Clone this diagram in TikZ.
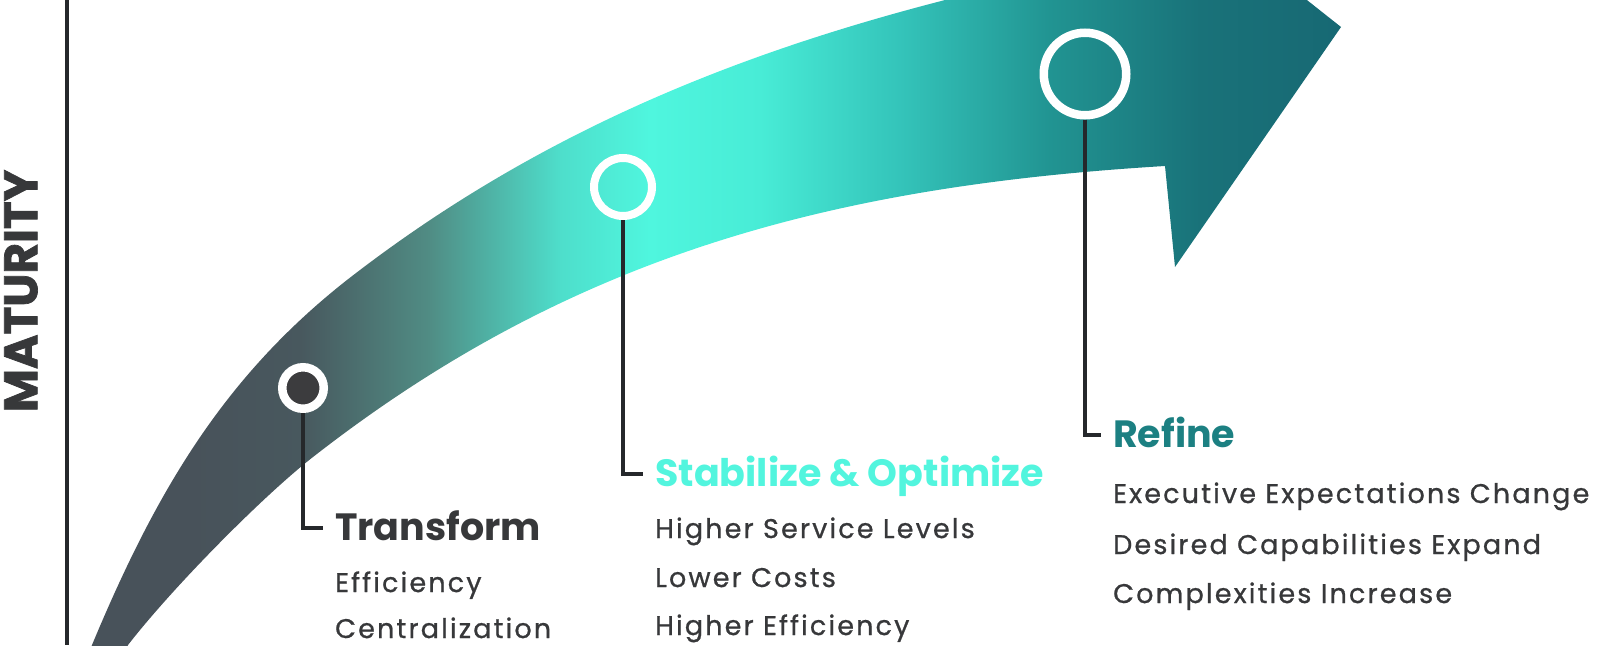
\documentclass[tikz,border=0pt]{standalone}
\usepackage{fontspec}
\setmainfont{Poppins}
\newfontfamily\itemfont[LetterSpace=8, FakeBold=0.8]{Poppins}
\newfontfamily\axisfont[BoldFeatures={FakeBold=1.5}]{Poppins}
\usepackage{xcolor}
\usetikzlibrary{positioning}

\definecolor{slate}{RGB}{72,82,90}
\definecolor{band1}{RGB}{72,88,94}
\definecolor{band2}{RGB}{80,140,132}
\definecolor{band3}{RGB}{78,222,203}
\definecolor{band4}{RGB}{79,246,222}
\definecolor{band5}{RGB}{72,236,214}
\definecolor{band6}{RGB}{52,196,186}
\definecolor{band7}{RGB}{33,148,146}
\definecolor{band8}{RGB}{25,114,121}
\definecolor{band9}{RGB}{23,104,115}
\definecolor{ink}{RGB}{55,56,58}
\definecolor{lead}{RGB}{37,40,43}
\definecolor{dotgray}{RGB}{60,60,62}
\definecolor{aqua}{RGB}{82,245,222}
\definecolor{tealtext}{RGB}{28,128,130}

\pgfdeclarehorizontalshading{bandshade}{100bp}{color(0bp)=(slate); color(31bp)=(slate);
  color(34.4bp)=(band1); color(38.4bp)=(band2); color(42.5bp)=(band3); color(45.3bp)=(band4);
  color(48.75bp)=(band5); color(53.1bp)=(band6); color(57.8bp)=(band7); color(62.5bp)=(band8);
  color(67.2bp)=(band9); color(100bp)=(band9)}

\begin{document}
\begin{tikzpicture}[x=1pt, y=-1pt,
    ring/.style={circle, draw=white, inner sep=0pt},
    leader/.style={draw=lead, line width=4pt},
    head/.style={anchor=base west, inner sep=0pt, font=\fontsize{38}{40}\selectfont\bfseries},
    entry/.style={anchor=base west, inner sep=0pt, text=ink, font=\fontsize{27}{30}\selectfont\itemfont}]

    \useasboundingbox (0,0) rectangle (1600,645);

    % the big arrow
    \begin{scope}
        \clip (65,700) -- (92,645)
            .. controls (157,489) and (225,376) .. (347,280)
            .. controls (577,101) and (820,26) .. (1050,-25)
            -- (1250,-45) -- (1341,27) -- (1175,267) -- (1165,166)
            .. controls (835,186) and (573,254) .. (313,457)
            .. controls (263,496) and (173,587) .. (128,645)
            -- (100,700) -- cycle;
        \shade[shading=bandshade] (0,-60) rectangle (1600,705);
    \end{scope}

    \draw[line width=4pt, draw=lead] (67,0) -- (67,645);
    \node[rotate=90, inner sep=0pt, text=ink, font=\fontsize{47}{49}\selectfont\axisfont\bfseries] at (21,291) (mat) {MATURITY};

    \node[ring, fill=dotgray, line width=8.5pt, minimum size=41.5pt] at (303,388) (tc) {};
    \node[ring, line width=8pt, minimum size=58pt] at (623,187) (sc) {};
    \node[ring, line width=8.5pt, minimum size=82.5pt] at (1085,74) (rc) {};

    \node[head, text=ink] at (335,540) (th) {Transform};
    \node[head, text=aqua] at (655,486) (sh) {Stabilize \& Optimize};
    \node[head, text=tealtext] at (1113,447) (rh) {Refine};

    \draw[leader] (tc.south) |- ([xshift=-12pt, yshift=12pt]th.base west);
    \draw[leader] (sc.south) |- ([xshift=-12pt, yshift=12pt]sh.base west);
    \draw[leader] (rc.south) |- ([xshift=-12pt, yshift=12pt]rh.base west);

    \node[entry] at (335,592) (t1) {Efficiency};
    \node[entry] at (335,638) (t2) {Centralization};
    \node[entry] at (655,538) (s1) {Higher Service Levels};
    \node[entry] at (655,587) (s2) {Lower Costs};
    \node[entry] at (655,635) (s3) {Higher Efficiency};
    \node[entry] at (1113,503) (r1) {Executive Expectations Change};
    \node[entry] at (1113,554) (r2) {Desired Capabilities Expand};
    \node[entry] at (1113,603) (r3) {Complexities Increase};
\end{tikzpicture}
\end{document}
